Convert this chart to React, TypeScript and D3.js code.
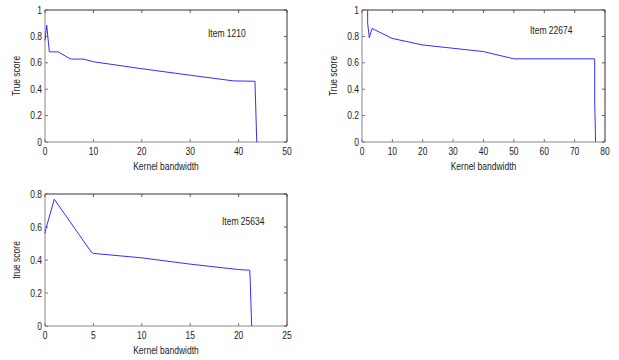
import React from "react";
import * as d3 from "d3";

const item1X = [0, 0.35, 0.9, 2.75, 4.8, 5.5, 7.9, 10, 19.6, 30, 38.9, 43.4, 43.4, 43.75];
const item1Y = [0.77, 0.886, 0.683, 0.683, 0.638, 0.628, 0.628, 0.608, 0.557, 0.506, 0.463, 0.46, 0.44, 0];
const item2X = [1.86, 1.86, 2.4, 3.3, 9.9, 20, 30, 40, 50, 76.6, 76.6, 76.9];
const item2Y = [1.0, 0.9, 0.79, 0.86, 0.785, 0.735, 0.71, 0.685, 0.63, 0.63, 0.316, 0];
const item3X = [0, 0.1, 0.96, 4.81, 5, 10, 15, 20, 21.15, 21.2, 21.35];
const item3Y = [0.561, 0.59, 0.768, 0.446, 0.44, 0.413, 0.375, 0.342, 0.338, 0.277, 0];

const xTicks1 = [0, 10, 20, 30, 40, 50];
const xTicks2 = [0, 10, 20, 30, 40, 50, 60, 70, 80];
const xTicks3 = [0, 5, 10, 15, 20, 25];
const yTicks12 = [0, 0.2, 0.4, 0.6, 0.8, 1];
const yTicks3 = [0, 0.2, 0.4, 0.6, 0.8];
const yLabels12 = ["0", "0.2", "0.4", "0.6", "0.8", "1"];
const yLabels3 = ["0", "0.2", "0.4", "0.6", "0.8"];
const titles = ["Item 1210", "Item 22674", "Item 25634"];
const yTitles = ["True score", "True score", "true score"];
const xTitle = "Kernel bandwidth";

const FONT = "'Liberation Sans', Arial, sans-serif";
const SX = 0.85;

function T(props: { x: number; y: number; anchor?: string; rot?: number; children: React.ReactNode }) {
  const rot = props.rot ? ` rotate(${props.rot})` : "";
  return (
    <text transform={`translate(${props.x},${props.y})${rot} scale(${SX},1)`} textAnchor={props.anchor || "start"}
      fontSize={10} fontFamily={FONT} fill="#222">{props.children}</text>
  );
}

type PanelProps = {
  left: number; right: number; top: number; bottom: number;
  xs: number[]; ys: number[]; xDom: [number, number]; yDom: [number, number];
  xTicks: number[]; yTicks: number[]; yLabels: string[];
  title: string; titleX: number; titleY: number; yTitle: string;
};

function Panel(p: PanelProps) {
  const x = d3.scaleLinear().domain(p.xDom).range([p.left, p.right]);
  const y = d3.scaleLinear().domain(p.yDom).range([p.bottom, p.top]);
  const pts: [number, number][] = p.xs.map((v, i) => [v, p.ys[i]]);
  const line = d3.line<[number, number]>().x(d => x(d[0])).y(d => y(d[1]));
  const tl = 3;
  return (
    <g>
      <line x1={p.left} x2={p.right} y1={p.top} y2={p.top} stroke="#333" strokeWidth={1} />
      <line x1={p.right} x2={p.right} y1={p.top} y2={p.bottom} stroke="#333" strokeWidth={1} />
      <line x1={p.left} x2={p.right} y1={p.bottom} y2={p.bottom} stroke="#888" strokeWidth={1} />
      <line x1={p.left} x2={p.left} y1={p.top} y2={p.bottom} stroke="#888" strokeWidth={1} />
      {p.xTicks.map(t => (
        <g key={"x" + t}>
          <line x1={x(t)} x2={x(t)} y1={p.bottom} y2={p.bottom - tl} stroke="#777" />
          <line x1={x(t)} x2={x(t)} y1={p.top} y2={p.top + tl} stroke="#555" />
          <T x={x(t)} y={p.bottom + 13} anchor="middle">{t}</T>
        </g>
      ))}
      {p.yTicks.map((t, i) => (
        <g key={"y" + t}>
          <line x1={p.left} x2={p.left + tl} y1={y(t)} y2={y(t)} stroke="#777" />
          <line x1={p.right} x2={p.right - tl} y1={y(t)} y2={y(t)} stroke="#555" />
          <T x={p.left - 3} y={y(t) + 3.5} anchor="end">{p.yLabels[i]}</T>
        </g>
      ))}
      <path d={line(pts) || ""} fill="none" stroke="#3030ff" strokeWidth={1} />
      <T x={p.titleX} y={p.titleY}>{p.title}</T>
      <T x={(p.left + p.right) / 2} y={p.bottom + 28} anchor="middle">{xTitle}</T>
      <T x={p.left - 25} y={(p.top + p.bottom) / 2} anchor="middle" rot={-90}>{p.yTitle}</T>
    </g>
  );
}

export default function App() {
  return (
    <svg width={619} height={360} style={{ position: "absolute", left: 0, top: 0, background: "#fff" }}>
      <rect x={0} y={0} width={619} height={360} fill="#fff" />
      <Panel left={45} right={287} top={10} bottom={142} xs={item1X} ys={item1Y} xDom={[0, 50]} yDom={[0, 1]}
        xTicks={xTicks1} yTicks={yTicks12} yLabels={yLabels12} title={titles[0]} titleX={208} titleY={37} yTitle={yTitles[0]} />
      <Panel left={362} right={605} top={10} bottom={142} xs={item2X} ys={item2Y} xDom={[0, 80]} yDom={[0, 1]}
        xTicks={xTicks2} yTicks={yTicks12} yLabels={yLabels12} title={titles[1]} titleX={530} titleY={34} yTitle={yTitles[1]} />
      <Panel left={45} right={287} top={194} bottom={326} xs={item3X} ys={item3Y} xDom={[0, 25]} yDom={[0, 0.8]}
        xTicks={xTicks3} yTicks={yTicks3} yLabels={yLabels3} title={titles[2]} titleX={222} titleY={225} yTitle={yTitles[2]} />
    </svg>
  );
}
